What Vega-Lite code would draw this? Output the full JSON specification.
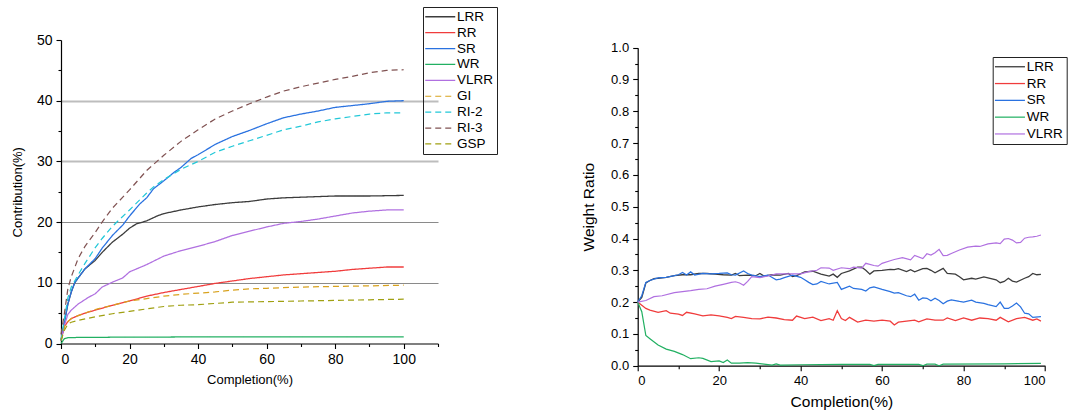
{
  "$schema": "https://vega.github.io/schema/vega-lite/v6.json",
  "autosize": "none",
  "padding": {"left": 61, "top": 40, "right": 1008, "bottom": 375},
  "bounds": "flush",
  "spacing": 199.7,
  "config": {
    "font": "Liberation Sans",
    "view": {"stroke": null},
    "axis": {"domainColor": "#000", "domainWidth": 1.2, "tickColor": "#000", "tickWidth": 1.1, "tickSize": 5, "labelColor": "#000", "titleColor": "#000", "labelFont": "Liberation Sans", "titleFont": "Liberation Sans", "titleFontWeight": "normal", "labelPadding": 4, "grid": false},
    "legend": {"symbolType": "M-3,0H3", "symbolSize": 100, "symbolStrokeWidth": 1.5, "labelFont": "Liberation Sans", "labelColor": "#000", "strokeColor": "#222", "padding": 3, "labelOffset": 10, "symbolOffset": 7.5}
  },
  "datasets": {
    "left": [
      {"s":"LRR","x":0,"y":0.5},{"s":"LRR","x":1,"y":3.5},{"s":"LRR","x":2,"y":6.5},{"s":"LRR","x":3,"y":8.5},{"s":"LRR","x":4,"y":10},{"s":"LRR","x":5,"y":10.8},{"s":"LRR","x":7,"y":12.3},{"s":"LRR","x":10,"y":13.7},{"s":"LRR","x":12,"y":15},{"s":"LRR","x":15,"y":16.7},{"s":"LRR","x":18,"y":18},{"s":"LRR","x":20,"y":19},{"s":"LRR","x":22,"y":19.7},{"s":"LRR","x":25,"y":20.2},{"s":"LRR","x":28,"y":21},{"s":"LRR","x":30,"y":21.4},{"s":"LRR","x":35,"y":22},{"s":"LRR","x":40,"y":22.5},{"s":"LRR","x":45,"y":22.9},{"s":"LRR","x":50,"y":23.2},{"s":"LRR","x":55,"y":23.4},{"s":"LRR","x":60,"y":23.8},{"s":"LRR","x":65,"y":24},{"s":"LRR","x":70,"y":24.1},{"s":"LRR","x":75,"y":24.2},{"s":"LRR","x":80,"y":24.3},{"s":"LRR","x":90,"y":24.3},{"s":"LRR","x":100,"y":24.4},
      {"s":"RR","x":0,"y":0.5},{"s":"RR","x":1,"y":2.8},{"s":"RR","x":2,"y":3.6},{"s":"RR","x":3,"y":4.1},{"s":"RR","x":5,"y":4.6},{"s":"RR","x":7,"y":5},{"s":"RR","x":10,"y":5.5},{"s":"RR","x":15,"y":6.3},{"s":"RR","x":20,"y":7},{"s":"RR","x":25,"y":7.8},{"s":"RR","x":30,"y":8.4},{"s":"RR","x":35,"y":8.9},{"s":"RR","x":40,"y":9.4},{"s":"RR","x":45,"y":9.9},{"s":"RR","x":50,"y":10.3},{"s":"RR","x":55,"y":10.7},{"s":"RR","x":60,"y":11},{"s":"RR","x":65,"y":11.3},{"s":"RR","x":70,"y":11.5},{"s":"RR","x":75,"y":11.7},{"s":"RR","x":80,"y":11.9},{"s":"RR","x":85,"y":12.2},{"s":"RR","x":90,"y":12.4},{"s":"RR","x":95,"y":12.6},{"s":"RR","x":100,"y":12.6},
      {"s":"SR","x":0,"y":0.5},{"s":"SR","x":1,"y":3.5},{"s":"SR","x":2,"y":6.5},{"s":"SR","x":3,"y":8.5},{"s":"SR","x":4,"y":10},{"s":"SR","x":5,"y":10.8},{"s":"SR","x":7,"y":12.3},{"s":"SR","x":10,"y":14},{"s":"SR","x":12,"y":15.7},{"s":"SR","x":15,"y":17.8},{"s":"SR","x":18,"y":19.5},{"s":"SR","x":20,"y":21},{"s":"SR","x":23,"y":23},{"s":"SR","x":25,"y":24},{"s":"SR","x":27,"y":25.5},{"s":"SR","x":30,"y":26.8},{"s":"SR","x":33,"y":28.2},{"s":"SR","x":35,"y":29},{"s":"SR","x":38,"y":30.5},{"s":"SR","x":40,"y":31.1},{"s":"SR","x":45,"y":32.8},{"s":"SR","x":50,"y":34.1},{"s":"SR","x":55,"y":35.1},{"s":"SR","x":60,"y":36.2},{"s":"SR","x":65,"y":37.2},{"s":"SR","x":70,"y":37.8},{"s":"SR","x":75,"y":38.3},{"s":"SR","x":80,"y":38.9},{"s":"SR","x":85,"y":39.2},{"s":"SR","x":90,"y":39.5},{"s":"SR","x":95,"y":39.9},{"s":"SR","x":100,"y":40},
      {"s":"WR","x":0,"y":0},{"s":"WR","x":1,"y":0.8},{"s":"WR","x":2,"y":0.95},{"s":"WR","x":5,"y":1},{"s":"WR","x":20,"y":1.05},{"s":"WR","x":50,"y":1.1},{"s":"WR","x":100,"y":1.1},
      {"s":"VLRR","x":0,"y":0.5},{"s":"VLRR","x":1,"y":3},{"s":"VLRR","x":2,"y":4.8},{"s":"VLRR","x":3,"y":5.5},{"s":"VLRR","x":5,"y":6.5},{"s":"VLRR","x":8,"y":7.6},{"s":"VLRR","x":10,"y":8.2},{"s":"VLRR","x":12,"y":9.3},{"s":"VLRR","x":15,"y":10.1},{"s":"VLRR","x":18,"y":10.8},{"s":"VLRR","x":20,"y":11.8},{"s":"VLRR","x":25,"y":13},{"s":"VLRR","x":30,"y":14.4},{"s":"VLRR","x":35,"y":15.3},{"s":"VLRR","x":40,"y":16},{"s":"VLRR","x":45,"y":16.8},{"s":"VLRR","x":50,"y":17.8},{"s":"VLRR","x":55,"y":18.5},{"s":"VLRR","x":60,"y":19.2},{"s":"VLRR","x":65,"y":19.8},{"s":"VLRR","x":70,"y":20.1},{"s":"VLRR","x":75,"y":20.5},{"s":"VLRR","x":80,"y":21},{"s":"VLRR","x":85,"y":21.5},{"s":"VLRR","x":90,"y":21.8},{"s":"VLRR","x":95,"y":22},{"s":"VLRR","x":100,"y":22},
      {"s":"GI","x":0,"y":0.5},{"s":"GI","x":1,"y":2.8},{"s":"GI","x":2,"y":3.6},{"s":"GI","x":3,"y":4.1},{"s":"GI","x":5,"y":4.6},{"s":"GI","x":7,"y":5},{"s":"GI","x":10,"y":5.6},{"s":"GI","x":15,"y":6.3},{"s":"GI","x":20,"y":7},{"s":"GI","x":25,"y":7.4},{"s":"GI","x":30,"y":7.8},{"s":"GI","x":35,"y":8.1},{"s":"GI","x":40,"y":8.3},{"s":"GI","x":45,"y":8.5},{"s":"GI","x":50,"y":8.8},{"s":"GI","x":55,"y":9},{"s":"GI","x":60,"y":9.1},{"s":"GI","x":70,"y":9.3},{"s":"GI","x":80,"y":9.4},{"s":"GI","x":90,"y":9.5},{"s":"GI","x":100,"y":9.6},
      {"s":"RI-2","x":0,"y":0.5},{"s":"RI-2","x":1,"y":4},{"s":"RI-2","x":2,"y":7.5},{"s":"RI-2","x":3,"y":9.3},{"s":"RI-2","x":5,"y":11.3},{"s":"RI-2","x":7,"y":13.2},{"s":"RI-2","x":10,"y":15.8},{"s":"RI-2","x":12,"y":17.3},{"s":"RI-2","x":15,"y":19.3},{"s":"RI-2","x":20,"y":22},{"s":"RI-2","x":25,"y":24.8},{"s":"RI-2","x":27,"y":25.8},{"s":"RI-2","x":30,"y":27},{"s":"RI-2","x":35,"y":28.7},{"s":"RI-2","x":40,"y":30},{"s":"RI-2","x":45,"y":31.5},{"s":"RI-2","x":50,"y":32.5},{"s":"RI-2","x":55,"y":33.4},{"s":"RI-2","x":60,"y":34.3},{"s":"RI-2","x":65,"y":35.2},{"s":"RI-2","x":70,"y":35.8},{"s":"RI-2","x":75,"y":36.5},{"s":"RI-2","x":80,"y":37},{"s":"RI-2","x":85,"y":37.4},{"s":"RI-2","x":90,"y":37.8},{"s":"RI-2","x":95,"y":38},{"s":"RI-2","x":100,"y":38},
      {"s":"RI-3","x":0,"y":1.5},{"s":"RI-3","x":1,"y":5},{"s":"RI-3","x":2,"y":9},{"s":"RI-3","x":3,"y":11},{"s":"RI-3","x":5,"y":14},{"s":"RI-3","x":7,"y":16},{"s":"RI-3","x":10,"y":18.3},{"s":"RI-3","x":12,"y":20},{"s":"RI-3","x":15,"y":22.3},{"s":"RI-3","x":20,"y":25.3},{"s":"RI-3","x":25,"y":28.5},{"s":"RI-3","x":30,"y":31},{"s":"RI-3","x":35,"y":33.3},{"s":"RI-3","x":40,"y":35.2},{"s":"RI-3","x":45,"y":37},{"s":"RI-3","x":50,"y":38.3},{"s":"RI-3","x":55,"y":39.5},{"s":"RI-3","x":60,"y":40.6},{"s":"RI-3","x":65,"y":41.6},{"s":"RI-3","x":70,"y":42.3},{"s":"RI-3","x":75,"y":42.9},{"s":"RI-3","x":80,"y":43.5},{"s":"RI-3","x":85,"y":44},{"s":"RI-3","x":90,"y":44.6},{"s":"RI-3","x":95,"y":45},{"s":"RI-3","x":100,"y":45.1},
      {"s":"GSP","x":0,"y":0.5},{"s":"GSP","x":1,"y":2.2},{"s":"GSP","x":2,"y":3.2},{"s":"GSP","x":3,"y":3.5},{"s":"GSP","x":5,"y":3.8},{"s":"GSP","x":10,"y":4.4},{"s":"GSP","x":15,"y":4.9},{"s":"GSP","x":20,"y":5.3},{"s":"GSP","x":25,"y":5.7},{"s":"GSP","x":30,"y":6.1},{"s":"GSP","x":35,"y":6.3},{"s":"GSP","x":40,"y":6.4},{"s":"GSP","x":45,"y":6.6},{"s":"GSP","x":50,"y":6.8},{"s":"GSP","x":60,"y":6.9},{"s":"GSP","x":70,"y":7},{"s":"GSP","x":80,"y":7.1},{"s":"GSP","x":90,"y":7.2},{"s":"GSP","x":100,"y":7.3}
    ],
    "right": [
      {"s":"LRR","x":0,"y":0.2},{"s":"LRR","x":1,"y":0.215},{"s":"LRR","x":2,"y":0.26},{"s":"LRR","x":3,"y":0.268},{"s":"LRR","x":4,"y":0.274},{"s":"LRR","x":5,"y":0.275},{"s":"LRR","x":7,"y":0.278},{"s":"LRR","x":9,"y":0.283},{"s":"LRR","x":11,"y":0.286},{"s":"LRR","x":13,"y":0.286},{"s":"LRR","x":15,"y":0.29},{"s":"LRR","x":17,"y":0.29},{"s":"LRR","x":19,"y":0.288},{"s":"LRR","x":21,"y":0.286},{"s":"LRR","x":23,"y":0.285},{"s":"LRR","x":24,"y":0.29},{"s":"LRR","x":25,"y":0.283},{"s":"LRR","x":27,"y":0.285},{"s":"LRR","x":29,"y":0.283},{"s":"LRR","x":30,"y":0.29},{"s":"LRR","x":31,"y":0.282},{"s":"LRR","x":33,"y":0.286},{"s":"LRR","x":35,"y":0.285},{"s":"LRR","x":37,"y":0.29},{"s":"LRR","x":38,"y":0.28},{"s":"LRR","x":39,"y":0.283},{"s":"LRR","x":41,"y":0.295},{"s":"LRR","x":43,"y":0.297},{"s":"LRR","x":45,"y":0.288},{"s":"LRR","x":47,"y":0.282},{"s":"LRR","x":48,"y":0.288},{"s":"LRR","x":49,"y":0.278},{"s":"LRR","x":50,"y":0.29},{"s":"LRR","x":52,"y":0.298},{"s":"LRR","x":54,"y":0.31},{"s":"LRR","x":55,"y":0.31},{"s":"LRR","x":56,"y":0.3},{"s":"LRR","x":57,"y":0.288},{"s":"LRR","x":58,"y":0.298},{"s":"LRR","x":60,"y":0.3},{"s":"LRR","x":62,"y":0.303},{"s":"LRR","x":63,"y":0.302},{"s":"LRR","x":64,"y":0.305},{"s":"LRR","x":66,"y":0.296},{"s":"LRR","x":67,"y":0.302},{"s":"LRR","x":68,"y":0.295},{"s":"LRR","x":70,"y":0.305},{"s":"LRR","x":71,"y":0.306},{"s":"LRR","x":72,"y":0.3},{"s":"LRR","x":73,"y":0.292},{"s":"LRR","x":75,"y":0.306},{"s":"LRR","x":76,"y":0.29},{"s":"LRR","x":78,"y":0.288},{"s":"LRR","x":79,"y":0.28},{"s":"LRR","x":80,"y":0.27},{"s":"LRR","x":82,"y":0.275},{"s":"LRR","x":83,"y":0.272},{"s":"LRR","x":85,"y":0.279},{"s":"LRR","x":87,"y":0.273},{"s":"LRR","x":88,"y":0.27},{"s":"LRR","x":89,"y":0.261},{"s":"LRR","x":90,"y":0.265},{"s":"LRR","x":91,"y":0.275},{"s":"LRR","x":92,"y":0.266},{"s":"LRR","x":93,"y":0.263},{"s":"LRR","x":95,"y":0.275},{"s":"LRR","x":96,"y":0.28},{"s":"LRR","x":97,"y":0.29},{"s":"LRR","x":98,"y":0.286},{"s":"LRR","x":99,"y":0.287},
      {"s":"RR","x":0,"y":0.2},{"s":"RR","x":1,"y":0.19},{"s":"RR","x":2,"y":0.18},{"s":"RR","x":3,"y":0.175},{"s":"RR","x":5,"y":0.168},{"s":"RR","x":7,"y":0.173},{"s":"RR","x":8,"y":0.165},{"s":"RR","x":10,"y":0.162},{"s":"RR","x":11,"y":0.158},{"s":"RR","x":12,"y":0.168},{"s":"RR","x":14,"y":0.163},{"s":"RR","x":16,"y":0.157},{"s":"RR","x":18,"y":0.16},{"s":"RR","x":20,"y":0.157},{"s":"RR","x":22,"y":0.152},{"s":"RR","x":23,"y":0.148},{"s":"RR","x":24,"y":0.155},{"s":"RR","x":26,"y":0.152},{"s":"RR","x":28,"y":0.148},{"s":"RR","x":30,"y":0.147},{"s":"RR","x":32,"y":0.153},{"s":"RR","x":34,"y":0.15},{"s":"RR","x":36,"y":0.145},{"s":"RR","x":38,"y":0.143},{"s":"RR","x":39,"y":0.156},{"s":"RR","x":41,"y":0.148},{"s":"RR","x":43,"y":0.153},{"s":"RR","x":45,"y":0.142},{"s":"RR","x":47,"y":0.148},{"s":"RR","x":48,"y":0.143},{"s":"RR","x":49,"y":0.173},{"s":"RR","x":50,"y":0.148},{"s":"RR","x":51,"y":0.142},{"s":"RR","x":52,"y":0.152},{"s":"RR","x":54,"y":0.137},{"s":"RR","x":56,"y":0.143},{"s":"RR","x":58,"y":0.14},{"s":"RR","x":60,"y":0.143},{"s":"RR","x":62,"y":0.14},{"s":"RR","x":63,"y":0.128},{"s":"RR","x":64,"y":0.137},{"s":"RR","x":66,"y":0.14},{"s":"RR","x":68,"y":0.143},{"s":"RR","x":69,"y":0.138},{"s":"RR","x":71,"y":0.147},{"s":"RR","x":73,"y":0.143},{"s":"RR","x":75,"y":0.143},{"s":"RR","x":76,"y":0.15},{"s":"RR","x":78,"y":0.142},{"s":"RR","x":80,"y":0.15},{"s":"RR","x":82,"y":0.143},{"s":"RR","x":84,"y":0.15},{"s":"RR","x":86,"y":0.148},{"s":"RR","x":88,"y":0.143},{"s":"RR","x":89,"y":0.152},{"s":"RR","x":91,"y":0.138},{"s":"RR","x":93,"y":0.148},{"s":"RR","x":95,"y":0.152},{"s":"RR","x":97,"y":0.143},{"s":"RR","x":98,"y":0.147},{"s":"RR","x":99,"y":0.14},
      {"s":"SR","x":0,"y":0.2},{"s":"SR","x":1,"y":0.22},{"s":"SR","x":2,"y":0.262},{"s":"SR","x":3,"y":0.268},{"s":"SR","x":4,"y":0.272},{"s":"SR","x":5,"y":0.276},{"s":"SR","x":7,"y":0.278},{"s":"SR","x":9,"y":0.283},{"s":"SR","x":10,"y":0.286},{"s":"SR","x":11,"y":0.293},{"s":"SR","x":12,"y":0.285},{"s":"SR","x":13,"y":0.295},{"s":"SR","x":14,"y":0.285},{"s":"SR","x":16,"y":0.29},{"s":"SR","x":18,"y":0.289},{"s":"SR","x":20,"y":0.29},{"s":"SR","x":22,"y":0.292},{"s":"SR","x":23,"y":0.286},{"s":"SR","x":24,"y":0.285},{"s":"SR","x":26,"y":0.298},{"s":"SR","x":27,"y":0.29},{"s":"SR","x":28,"y":0.285},{"s":"SR","x":30,"y":0.28},{"s":"SR","x":32,"y":0.285},{"s":"SR","x":34,"y":0.27},{"s":"SR","x":35,"y":0.272},{"s":"SR","x":36,"y":0.277},{"s":"SR","x":38,"y":0.285},{"s":"SR","x":40,"y":0.278},{"s":"SR","x":41,"y":0.27},{"s":"SR","x":42,"y":0.262},{"s":"SR","x":43,"y":0.255},{"s":"SR","x":44,"y":0.257},{"s":"SR","x":45,"y":0.265},{"s":"SR","x":47,"y":0.257},{"s":"SR","x":49,"y":0.262},{"s":"SR","x":50,"y":0.24},{"s":"SR","x":52,"y":0.25},{"s":"SR","x":53,"y":0.243},{"s":"SR","x":55,"y":0.24},{"s":"SR","x":56,"y":0.235},{"s":"SR","x":57,"y":0.245},{"s":"SR","x":58,"y":0.248},{"s":"SR","x":60,"y":0.24},{"s":"SR","x":62,"y":0.233},{"s":"SR","x":63,"y":0.228},{"s":"SR","x":64,"y":0.23},{"s":"SR","x":66,"y":0.22},{"s":"SR","x":67,"y":0.217},{"s":"SR","x":68,"y":0.225},{"s":"SR","x":69,"y":0.206},{"s":"SR","x":70,"y":0.213},{"s":"SR","x":71,"y":0.212},{"s":"SR","x":72,"y":0.204},{"s":"SR","x":73,"y":0.212},{"s":"SR","x":74,"y":0.205},{"s":"SR","x":75,"y":0.195},{"s":"SR","x":76,"y":0.203},{"s":"SR","x":77,"y":0.207},{"s":"SR","x":79,"y":0.202},{"s":"SR","x":80,"y":0.2},{"s":"SR","x":82,"y":0.206},{"s":"SR","x":83,"y":0.2},{"s":"SR","x":85,"y":0.196},{"s":"SR","x":86,"y":0.192},{"s":"SR","x":88,"y":0.186},{"s":"SR","x":89,"y":0.2},{"s":"SR","x":90,"y":0.18},{"s":"SR","x":91,"y":0.18},{"s":"SR","x":92,"y":0.188},{"s":"SR","x":93,"y":0.197},{"s":"SR","x":94,"y":0.185},{"s":"SR","x":95,"y":0.165},{"s":"SR","x":96,"y":0.163},{"s":"SR","x":97,"y":0.152},{"s":"SR","x":99,"y":0.154},
      {"s":"WR","x":0,"y":0.2},{"s":"WR","x":1,"y":0.17},{"s":"WR","x":2,"y":0.095},{"s":"WR","x":3,"y":0.085},{"s":"WR","x":5,"y":0.065},{"s":"WR","x":7,"y":0.052},{"s":"WR","x":9,"y":0.045},{"s":"WR","x":11,"y":0.035},{"s":"WR","x":13,"y":0.022},{"s":"WR","x":15,"y":0.025},{"s":"WR","x":16,"y":0.023},{"s":"WR","x":18,"y":0.013},{"s":"WR","x":20,"y":0.015},{"s":"WR","x":21,"y":0.01},{"s":"WR","x":22,"y":0.018},{"s":"WR","x":23,"y":0.008},{"s":"WR","x":25,"y":0.008},{"s":"WR","x":27,"y":0.01},{"s":"WR","x":29,"y":0.008},{"s":"WR","x":31,"y":0.005},{"s":"WR","x":33,"y":0.002},{"s":"WR","x":34,"y":0.006},{"s":"WR","x":35,"y":0.002},{"s":"WR","x":40,"y":0.003},{"s":"WR","x":50,"y":0.004},{"s":"WR","x":57,"y":0.004},{"s":"WR","x":58,"y":0.0},{"s":"WR","x":59,"y":0.004},{"s":"WR","x":69,"y":0.004},{"s":"WR","x":70,"y":0.0},{"s":"WR","x":71,"y":0.005},{"s":"WR","x":73,"y":0.005},{"s":"WR","x":74,"y":0.0},{"s":"WR","x":75,"y":0.005},{"s":"WR","x":90,"y":0.006},{"s":"WR","x":99,"y":0.007},
      {"s":"VLRR","x":0,"y":0.2},{"s":"VLRR","x":2,"y":0.205},{"s":"VLRR","x":4,"y":0.217},{"s":"VLRR","x":6,"y":0.22},{"s":"VLRR","x":9,"y":0.23},{"s":"VLRR","x":11,"y":0.233},{"s":"VLRR","x":13,"y":0.236},{"s":"VLRR","x":15,"y":0.24},{"s":"VLRR","x":17,"y":0.242},{"s":"VLRR","x":19,"y":0.25},{"s":"VLRR","x":21,"y":0.256},{"s":"VLRR","x":23,"y":0.262},{"s":"VLRR","x":24,"y":0.264},{"s":"VLRR","x":25,"y":0.26},{"s":"VLRR","x":26,"y":0.253},{"s":"VLRR","x":27,"y":0.265},{"s":"VLRR","x":28,"y":0.28},{"s":"VLRR","x":30,"y":0.277},{"s":"VLRR","x":32,"y":0.282},{"s":"VLRR","x":34,"y":0.289},{"s":"VLRR","x":37,"y":0.289},{"s":"VLRR","x":40,"y":0.289},{"s":"VLRR","x":42,"y":0.296},{"s":"VLRR","x":44,"y":0.3},{"s":"VLRR","x":45,"y":0.308},{"s":"VLRR","x":47,"y":0.307},{"s":"VLRR","x":48,"y":0.3},{"s":"VLRR","x":50,"y":0.308},{"s":"VLRR","x":52,"y":0.305},{"s":"VLRR","x":53,"y":0.31},{"s":"VLRR","x":55,"y":0.307},{"s":"VLRR","x":56,"y":0.322},{"s":"VLRR","x":58,"y":0.315},{"s":"VLRR","x":59,"y":0.313},{"s":"VLRR","x":60,"y":0.322},{"s":"VLRR","x":62,"y":0.33},{"s":"VLRR","x":63,"y":0.334},{"s":"VLRR","x":65,"y":0.34},{"s":"VLRR","x":67,"y":0.333},{"s":"VLRR","x":68,"y":0.347},{"s":"VLRR","x":70,"y":0.337},{"s":"VLRR","x":71,"y":0.352},{"s":"VLRR","x":72,"y":0.348},{"s":"VLRR","x":73,"y":0.355},{"s":"VLRR","x":74,"y":0.366},{"s":"VLRR","x":75,"y":0.346},{"s":"VLRR","x":76,"y":0.347},{"s":"VLRR","x":77,"y":0.353},{"s":"VLRR","x":79,"y":0.364},{"s":"VLRR","x":81,"y":0.373},{"s":"VLRR","x":83,"y":0.376},{"s":"VLRR","x":84,"y":0.375},{"s":"VLRR","x":86,"y":0.383},{"s":"VLRR","x":88,"y":0.386},{"s":"VLRR","x":89,"y":0.384},{"s":"VLRR","x":90,"y":0.398},{"s":"VLRR","x":91,"y":0.4},{"s":"VLRR","x":92,"y":0.395},{"s":"VLRR","x":93,"y":0.386},{"s":"VLRR","x":94,"y":0.388},{"s":"VLRR","x":95,"y":0.401},{"s":"VLRR","x":96,"y":0.404},{"s":"VLRR","x":97,"y":0.405},{"s":"VLRR","x":98,"y":0.407},{"s":"VLRR","x":99,"y":0.411}
    ]
  },
  "hconcat": [
    {
      "width": 377,
      "height": 303.5,
      "data": {"name": "left"},
      "layer": [
        {
          "mark": {"type": "line", "strokeCap": "butt"},
          "encoding": {
            "x": {"field": "x", "type": "quantitative", "scale": {"domain": [0, 110], "nice": false, "zero": false},
              "axis": {"orient": "bottom", "values": [0, 20, 40, 60, 80, 100], "title": "Completion(%)", "labelFontSize": 14, "titleFontSize": 13, "titlePadding": 7}},
            "y": {"field": "y", "type": "quantitative", "scale": {"domain": [0, 50], "nice": false, "zero": false},
              "axis": {"orient": "left", "values": [0, 10, 20, 30, 40, 50], "title": "Contribution(%)", "labelFontSize": 14, "titleFontSize": 13, "titlePadding": 12,
                "grid": true,
                "gridColor": {"condition": {"test": "datum.value >= 30", "value": "#bdbdbd"}, "value": "#8a8a8a"},
                "gridWidth": {"condition": {"test": "datum.value >= 30", "value": 1.8}, "value": 1.2},
                "gridOpacity": {"condition": {"test": "datum.value == 0 || datum.value == 50", "value": 0}, "value": 1}}},
            "color": {"field": "s", "type": "nominal",
              "scale": {"domain": ["LRR", "RR", "SR", "WR", "VLRR", "GI", "RI-2", "RI-3", "GSP"], "range": ["#3c3c3c", "#f03c3c", "#2a72e0", "#22b062", "#b070e0", "#d8a21e", "#22c8d8", "#805252", "#a0a012"]},
              "legend": {"title": null, "orient": "none", "legendX": 362, "legendY": -33, "labelFontSize": 13.5, "rowPadding": 0.9}},
            "strokeDash": {"field": "s", "type": "nominal",
              "scale": {"domain": ["LRR", "RR", "SR", "WR", "VLRR", "GI", "RI-2", "RI-3", "GSP"], "range": [[1, 0], [1, 0], [1, 0], [1, 0], [1, 0], [6, 4], [6, 4], [6, 4], [6, 4]]},
              "legend": {"title": null, "orient": "none", "legendX": 362, "legendY": -33, "labelFontSize": 13.5, "rowPadding": 0.9}},
            "strokeWidth": {"field": "s", "type": "nominal",
              "scale": {"domain": ["LRR", "RR", "SR", "WR", "VLRR", "GI", "RI-2", "RI-3", "GSP"], "range": [1.3, 1.2, 1.8, 1.2, 1.3, 1.8, 1.8, 1.8, 1.8]},
              "legend": null}
          }
        },
        {
          "mark": {"type": "line", "opacity": 0},
          "encoding": {
            "x": {"field": "x", "type": "quantitative", "scale": {"domain": [0, 110], "nice": false, "zero": false},
              "axis": {"orient": "bottom", "values": [10, 30, 50, 70, 90, 110], "labels": false, "domain": false, "title": null, "tickSize": 3}},
            "y": {"field": "y", "type": "quantitative", "scale": {"domain": [0, 50], "nice": false, "zero": false},
              "axis": {"orient": "left", "values": [5, 15, 25, 35, 45], "labels": false, "domain": false, "title": null, "tickSize": 3}},
            "detail": {"field": "s"}
          }
        }
      ],
      "resolve": {"axis": {"x": "independent", "y": "independent"}}
    },
    {
      "width": 407.3,
      "height": 325.7,
      "data": {"name": "right"},
      "layer": [
        {
          "mark": {"type": "line", "strokeCap": "butt"},
          "encoding": {
            "x": {"field": "x", "type": "quantitative", "scale": {"domain": [0, 100], "nice": false, "zero": false},
              "axis": {"orient": "bottom", "values": [0, 20, 40, 60, 80, 100], "title": "Completion(%)", "labelFontSize": 13, "titleFontSize": 15.5, "titlePadding": 7}},
            "y": {"field": "y", "type": "quantitative", "scale": {"domain": [0, 1], "range": [325.7, 7.7], "nice": false, "zero": false},
              "axis": {"orient": "left", "values": [0, 0.1, 0.2, 0.3, 0.4, 0.5, 0.6, 0.7, 0.8, 0.9, 1.0], "format": ".1f", "title": "Weight Ratio", "labelFontSize": 13, "titleFontSize": 15.5, "titlePadding": 14}},
            "color": {"field": "s", "type": "nominal",
              "scale": {"domain": ["LRR", "RR", "SR", "WR", "VLRR"], "range": ["#3c3c3c", "#f03c3c", "#2a72e0", "#22b062", "#b070e0"]},
              "legend": {"title": null, "orient": "none", "legendX": 355, "legendY": 17, "labelFontSize": 13.5, "rowPadding": 1.8}},
            "strokeWidth": {"field": "s", "type": "nominal",
              "scale": {"domain": ["LRR", "RR", "SR", "WR", "VLRR"], "range": [1.3, 1.2, 1.8, 1.3, 1.3]},
              "legend": null}
          }
        },
        {
          "mark": {"type": "line", "opacity": 0},
          "encoding": {
            "x": {"field": "x", "type": "quantitative", "scale": {"domain": [0, 100], "nice": false, "zero": false},
              "axis": {"orient": "bottom", "values": [10, 30, 50, 70, 90], "labels": false, "domain": false, "title": null, "tickSize": 3}},
            "y": {"field": "y", "type": "quantitative", "scale": {"domain": [0, 1], "range": [325.7, 7.7], "nice": false, "zero": false},
              "axis": {"orient": "left", "values": [0.05, 0.15, 0.25, 0.35, 0.45, 0.55, 0.65, 0.75, 0.85, 0.95], "labels": false, "domain": false, "title": null, "tickSize": 3}},
            "detail": {"field": "s"}
          }
        }
      ],
      "resolve": {"axis": {"x": "independent", "y": "independent"}}
    }
  ],
  "resolve": {"scale": {"color": "independent", "strokeDash": "independent", "strokeWidth": "independent", "x": "independent", "y": "independent"}}
}
